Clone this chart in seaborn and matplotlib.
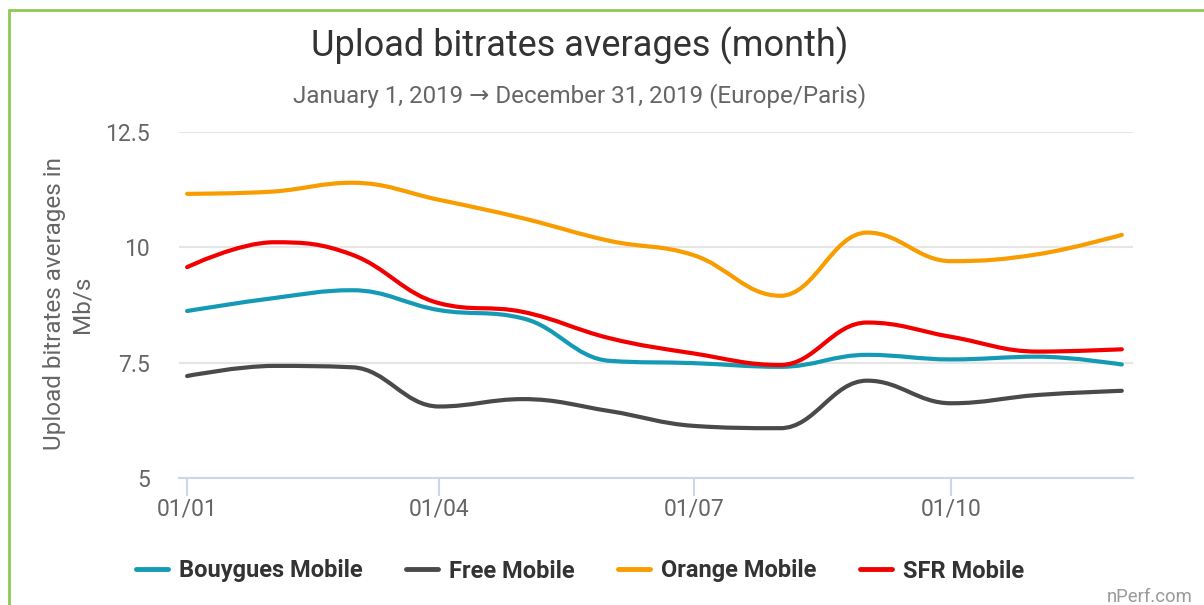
import numpy as np
import pandas as pd
import matplotlib
matplotlib.use("Agg")
import matplotlib.pyplot as plt
import matplotlib.dates as mdates
from matplotlib.path import Path
from matplotlib.patches import PathPatch
from matplotlib.lines import Line2D
import seaborn as sns

# monthly upload averages (Mb/s)
months = pd.date_range("2019-01-01", periods=12, freq="MS")
bouygues = [8.62, 8.90, 9.07, 8.64, 8.46, 7.54, 7.49, 7.41, 7.67, 7.57, 7.63, 7.46]
free = [7.21, 7.43, 7.40, 6.55, 6.71, 6.45, 6.13, 6.08, 7.11, 6.62, 6.80, 6.89]
orange = [11.16, 11.21, 11.40, 11.03, 10.63, 10.14, 9.83, 8.95, 10.32, 9.70, 9.85, 10.27]
sfr = [9.57, 10.11, 9.84, 8.79, 8.60, 8.03, 7.70, 7.45, 8.37, 8.06, 7.74, 7.79]

operators = ["Bouygues Mobile", "Free Mobile", "Orange Mobile", "SFR Mobile"]
colors = ["#149AB5", "#4A4A4A", "#F99C00", "#F20000"]
x_ticks = ["2019-01-01", "2019-04-01", "2019-07-01", "2019-10-01"]
x_labels = ["01/01", "01/04", "01/07", "01/10"]
y_ticks = [5, 7.5, 10, 12.5]
y_labels = ["5", "7.5", "10", "12.5"]

df = pd.DataFrame({"Date": np.tile(months, 4),
                   "Operator": np.repeat(operators, 12),
                   "Value": bouygues + free + orange + sfr})


def spline_path(xy, smoothing=1.5):
    # highcharts-like spline: bezier control points around each point
    verts = [tuple(xy[0])]
    codes = [Path.MOVETO]
    n = len(xy)
    right_prev = tuple(xy[0])
    for i in range(1, n):
        x, y = xy[i]
        if i < n - 1:
            px, py = xy[i - 1]
            nx, ny = xy[i + 1]
            lcx = (smoothing * x + px) / (smoothing + 1)
            lcy = (smoothing * y + py) / (smoothing + 1)
            rcx = (smoothing * x + nx) / (smoothing + 1)
            rcy = (smoothing * y + ny) / (smoothing + 1)
            if rcx != lcx:
                corr = (rcy - lcy) * (rcx - x) / (rcx - lcx) + y - rcy
                lcy += corr
                rcy += corr
            if lcy > py and lcy > y:
                lcy = max(py, y)
                rcy = 2 * y - lcy
            elif lcy < py and lcy < y:
                lcy = min(py, y)
                rcy = 2 * y - lcy
            if rcy > ny and rcy > y:
                rcy = max(ny, y)
                lcy = 2 * y - rcy
            elif rcy < ny and rcy < y:
                rcy = min(ny, y)
                lcy = 2 * y - rcy
            left, right = (lcx, lcy), (rcx, rcy)
        else:
            left, right = (x, y), (x, y)
        verts += [right_prev, left, (x, y)]
        codes += [Path.CURVE4] * 3
        right_prev = right
    return Path(verts, codes)


sns.set_theme(style="white")
plt.rcParams["font.family"] = ["Roboto", "DejaVu Sans"]

fig = plt.figure(figsize=(12.04, 6.05), dpi=100, facecolor="white")
ax = fig.add_axes([179 / 1204, 127 / 605, 954 / 1204, 346 / 605])

palette = dict(zip(operators, colors))
sns.lineplot(data=df, x="Date", y="Value", hue="Operator", hue_order=operators,
             palette=palette, linewidth=3, legend=False, ax=ax)

# swap the straight segments for smooth curves
for line in list(ax.lines):
    xy = line.get_xydata()
    patch = PathPatch(spline_path(xy), facecolor="none", edgecolor=line.get_color(),
                      lw=3, capstyle="round", joinstyle="round", zorder=3)
    ax.add_patch(patch)
    line.set_visible(False)

start = mdates.date2num(pd.Timestamp("2019-01-01"))
ax.set_xlim(start - 2.9, start + 338)
ax.set_ylim(5, 12.5)
ax.set_yticks(y_ticks)
ax.set_yticklabels(y_labels)
ax.set_xticks([mdates.date2num(pd.Timestamp(d)) for d in x_ticks])
ax.set_xticklabels(x_labels)
ax.set_xlabel("")
ax.set_ylabel("")

ax.grid(axis="y", color="#e6e6e6", linewidth=1.5)
ax.grid(axis="x", visible=False)
for s in ["top", "right", "left"]:
    ax.spines[s].set_visible(False)
ax.spines["bottom"].set_color("#ccd6eb")
ax.spines["bottom"].set_linewidth(1.5)
ax.tick_params(axis="y", length=0, pad=21, labelsize=16.5, labelcolor="#666666")
ax.tick_params(axis="x", length=13, width=1.5, color="#ccd6eb", pad=1,
               labelsize=16.5, labelcolor="#666666", bottom=True)

fig.text(68 / 1204, 1 - 304 / 605, "Upload bitrates averages in\nMb/s", rotation=90,
         ha="center", va="center", multialignment="center", fontsize=17.5,
         color="#666666", linespacing=1.25)

fig.text(580 / 1204, 1 - 46 / 605, "Upload bitrates averages (month)",
         ha="center", va="center", fontsize=26, color="#333333")
fig.text(580 / 1204, 1 - 96 / 605, "January 1, 2019 \u2192 December 31, 2019 (Europe/Paris)",
         ha="center", va="center", fontsize=17.4, color="#666666")

handles = [Line2D([0], [0], color=c, lw=3.5) for c in colors]
fig.legend(handles, operators, loc="center", bbox_to_anchor=(580 / 1204, 1 - 571 / 605),
           ncol=4, frameon=False, handlelength=1.35, handletextpad=0.47,
           columnspacing=1.85, prop={"weight": "bold", "size": 17},
           labelcolor="#333333")

fig.text(1193 / 1204, 1 - 597 / 605, "nPerf.com", ha="right", va="center",
         fontsize=13.3, color="#999999")

# green frame (left + top edges visible)
fig.add_artist(Line2D([8.5 / 1204, 8.5 / 1204], [0, 1 - 10 / 605], color="#8CCB55",
                      lw=2, transform=fig.transFigure))
fig.add_artist(Line2D([8.5 / 1204, 1], [1 - 10 / 605, 1 - 10 / 605], color="#8CCB55",
                      lw=2, transform=fig.transFigure))

fig.savefig("out.png", dpi=100, facecolor="white")
